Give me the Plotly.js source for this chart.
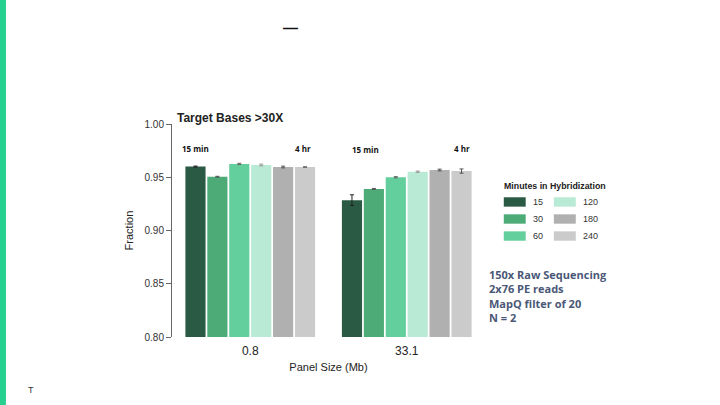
<!DOCTYPE html>
<html><head><meta charset="utf-8">
<script src="https://cdn.plot.ly/plotly-3.0.1.min.js"></script>
<style>html,body{margin:0;padding:0;background:#fff;}#c{width:720px;height:405px;}</style>
</head><body><div id="c"></div>
<script>
const categories = ['0.8', '33.1'];
const minutes = ['15', '30', '60', '120', '180', '240'];
const colors = ['#2a5944', '#4dab78', '#63cf9c', '#b8ead6', '#b0b0b0', '#cbcbcb'];
const v15  = [0.960, 0.9285];
const v30  = [0.9505, 0.939];
const v60  = [0.9625, 0.950];
const v120 = [0.9615, 0.9552];
const v180 = [0.9596, 0.9568];
const v240 = [0.9596, 0.9558];
const e15  = [0.0005, 0.005];
const e30  = [0.0004, 0.0005];
const e60  = [0.0006, 0.0006];
const e120 = [0.0008, 0.0006];
const e180 = [0.0008, 0.0008];
const e240 = [0.0, 0.002];
const notes = ['150x Raw Sequencing', '2x76 PE reads', 'MapQ filter of 20', 'N = 2'];

const vals = [v15, v30, v60, v120, v180, v240];
const errs = [e15, e30, e60, e120, e180, e240];
const errColors = ['#222', '#555', '#666', '#999', '#555', '#555'];

const traces = minutes.map((m, i) => ({
  type: 'bar', name: m, x: categories, y: vals[i],
  marker: {color: colors[i]},
  error_y: {type: 'data', array: errs[i], visible: true, color: errColors[i], thickness: 1, width: 2},
  showlegend: false
}));

const lbl = {family: 'Open Sans', size: 8, color: '#111'};
const annotations = [
  {text: '<b>Target Bases >30X</b>', xref: 'paper', yref: 'paper', x: 0.01, y: 1.03, xanchor: 'left', yanchor: 'middle', showarrow: false, font: {family: 'Liberation Sans, Arial', size: 12, color: '#222'}},
  {text: '<b>15 min</b>', xref: 'paper', yref: 'paper', x: 0.025, y: 0.887, xanchor: 'left', yanchor: 'middle', showarrow: false, font: lbl},
  {text: '<b>4 hr</b>', xref: 'paper', yref: 'paper', x: 0.45, y: 0.887, xanchor: 'right', yanchor: 'middle', showarrow: false, font: lbl},
  {text: '<b>15 min</b>', xref: 'paper', yref: 'paper', x: 0.57, y: 0.878, xanchor: 'left', yanchor: 'middle', showarrow: false, font: lbl},
  {text: '<b>4 hr</b>', xref: 'paper', yref: 'paper', x: 0.958, y: 0.887, xanchor: 'right', yanchor: 'middle', showarrow: false, font: lbl},
  {text: '<b>Minutes in Hybridization</b>', xref: 'paper', yref: 'paper', x: 1.055, y: 0.71, xanchor: 'left', yanchor: 'middle', showarrow: false, font: {family: 'Liberation Sans, Arial', size: 8.8, color: '#222'}},
  {text: '<b>' + notes.join('<br>') + '</b>', xref: 'paper', yref: 'paper', x: 1.005, y: 0.34, xanchor: 'left', yanchor: 'top', align: 'left', showarrow: false, font: {family: 'Open Sans', size: 11, color: '#4a5877'}},
  {text: '<b>—</b>', xref: 'paper', yref: 'paper', x: 0.38, y: 1.455, xanchor: 'center', yanchor: 'middle', showarrow: false, font: {family: 'Liberation Sans', size: 15, color: '#111'}},
  {text: 'T', xref: 'paper', yref: 'paper', x: -0.45, y: -0.25, xanchor: 'center', yanchor: 'middle', showarrow: false, font: {family: 'Liberation Sans', size: 9, color: '#333'}}
];

const shapes = [
  {type: 'rect', xref: 'paper', yref: 'paper', x0: -0.57, x1: -0.5305, y0: -0.4, y1: 1.7, fillcolor: '#26d08f', line: {width: 0}, layer: 'above'}
];

// Legend built from the series names/colors (2 columns x 3 rows)
minutes.forEach((m, i) => {
  const col = Math.floor(i / 3), row = i % 3;
  const x0 = 1.06 + col * 0.16;
  const yc = 0.634 - row * 0.08;
  shapes.push({type: 'rect', xref: 'paper', yref: 'paper', x0: x0, x1: x0 + 0.07, y0: yc - 0.022, y1: yc + 0.022, fillcolor: colors[i], line: {width: 0}});
  annotations.push({text: m, xref: 'paper', yref: 'paper', x: x0 + 0.086, y: yc, xanchor: 'left', yanchor: 'middle', showarrow: false, font: {family: 'Liberation Sans, Arial', size: 9, color: '#333'}});
});

const layout = {
  width: 720, height: 405,
  margin: {l: 172, r: 235, t: 124, b: 68},
  paper_bgcolor: '#fff', plot_bgcolor: '#fff',
  barmode: 'group', bargap: 0.16, bargroupgap: 0.08,
  showlegend: false,
  xaxis: {
    type: 'category', showline: false, ticks: '', showgrid: false, zeroline: false,
    ticklabelstandoff: 5,
    tickfont: {family: 'Liberation Sans, Arial', size: 12, color: '#222'},
    title: {text: 'Panel Size (Mb)', font: {family: 'Liberation Sans, Arial', size: 11, color: '#222'}, standoff: 6}
  },
  yaxis: {
    range: [0.8, 1.0], tickvals: [0.8, 0.85, 0.9, 0.95, 1.0], tickformat: '.2f',
    showline: true, linecolor: '#666', linewidth: 1, ticks: 'outside', ticklen: 5, tickcolor: '#666',
    showgrid: false, zeroline: false,
    tickfont: {family: 'Liberation Sans, Arial', size: 10, color: '#333'},
    title: {text: 'Fraction', font: {family: 'Liberation Sans, Arial', size: 11, color: '#222'}, standoff: 8}
  },
  annotations: annotations,
  shapes: shapes
};

Plotly.newPlot('c', traces, layout, {displayModeBar: false, staticPlot: true});
</script></body></html>
